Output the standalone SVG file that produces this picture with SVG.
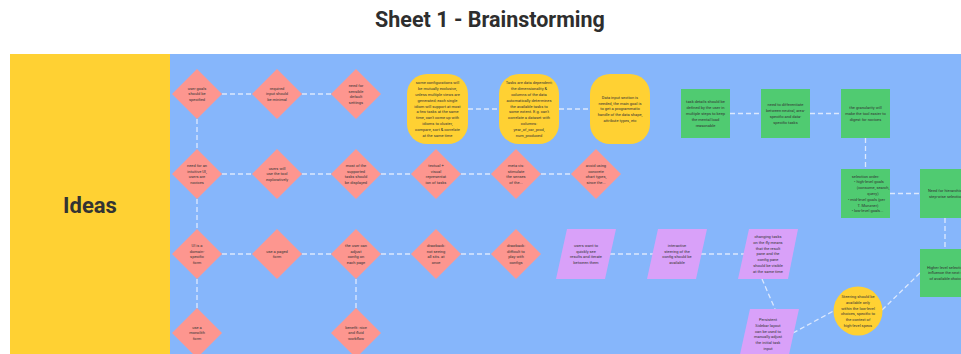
<svg xmlns="http://www.w3.org/2000/svg" width="961" height="354" viewBox="0 0 961 354">
<style>
.t{font-family:Roboto,"Liberation Sans",sans-serif;font-size:4px;fill:#333;text-anchor:middle}
.dia{fill:#FD968F}
.yel{fill:#FFD133}
.grn{fill:#50CB71}
.pur{fill:#D9A1F9}
.c line{stroke:#DCE8FD;stroke-width:1.3;stroke-dasharray:5 3;fill:none}
</style>
<rect width="961" height="354" fill="#fff"/>
<text x="490" y="27" style="font-family:Roboto,'Liberation Sans',sans-serif;font-size:21.5px;font-weight:700;fill:#2e2e2e;text-anchor:middle">Sheet 1 - Brainstorming</text>
<rect x="10" y="54" width="160" height="300" fill="#FFD133"/>
<rect x="170" y="54" width="791" height="300" fill="#86B6FB"/>
<text x="90" y="213" style="font-family:Roboto,'Liberation Sans',sans-serif;font-size:22px;font-weight:700;fill:#333;text-anchor:middle">Ideas</text>

<g class="c">
<line x1="222" y1="94" x2="252" y2="94"/>
<line x1="302" y1="94" x2="331" y2="94"/>
<line x1="197" y1="119" x2="197" y2="149"/>
<line x1="222" y1="174" x2="252" y2="174"/>
<line x1="302" y1="174" x2="331" y2="174"/>
<line x1="381" y1="174" x2="411" y2="174"/>
<line x1="461" y1="174" x2="491" y2="174"/>
<line x1="541" y1="174" x2="571" y2="174"/>
<line x1="197" y1="199" x2="197" y2="229"/>
<line x1="222" y1="254" x2="252" y2="254"/>
<line x1="302" y1="254" x2="331" y2="254"/>
<line x1="381" y1="254" x2="411" y2="254"/>
<line x1="461" y1="254" x2="491" y2="254"/>
<line x1="197" y1="279" x2="197" y2="308"/>
<line x1="356" y1="279" x2="356" y2="308"/>
<line x1="610" y1="254" x2="653" y2="254"/>
<line x1="701" y1="254" x2="744" y2="254"/>
<line x1="468" y1="109" x2="499" y2="109"/>
<line x1="559" y1="109" x2="590" y2="109"/>
<line x1="730" y1="113.5" x2="761" y2="113.5"/>
<line x1="810" y1="113.5" x2="841" y2="113.5"/>
<line x1="865.5" y1="138" x2="865.5" y2="169"/>
<line x1="890" y1="193.5" x2="920" y2="193.5"/>
<line x1="945" y1="218" x2="945" y2="249"/>
<line x1="762" y1="279" x2="775" y2="309"/>
<line x1="793" y1="333" x2="833.5" y2="311"/>
<line x1="882" y1="310" x2="920" y2="273"/>
</g>

<g id="n-user-goals"><polygon class="dia" points="197,69 222,94 197,119 172,94"/><text class="t" y="89.6"><tspan x="197">user goals</tspan><tspan x="197" dy="5.8">should be</tspan><tspan x="197" dy="5.8">specified</tspan></text></g>
<g id="n-required-input"><polygon class="dia" points="277,69 302,94 277,119 252,94"/><text class="t" y="89.6"><tspan x="277">required</tspan><tspan x="277" dy="5.8">input should</tspan><tspan x="277" dy="5.8">be minimal</tspan></text></g>
<g id="n-defaults"><polygon class="dia" points="356,69 381,94 356,119 331,94"/><text class="t" y="86.7"><tspan x="356">need for</tspan><tspan x="356" dy="5.8">sensible</tspan><tspan x="356" dy="5.8">default</tspan><tspan x="356" dy="5.8">settings</tspan></text></g>

<g id="n-config-exclusive"><rect class="yel" x="407" y="74" width="61" height="70" rx="20"/><text class="t" y="84.3"><tspan x="437.5">some configurations will</tspan><tspan x="437.5" dy="5.8">be mutually exclusive,</tspan><tspan x="437.5" dy="5.8">unless multiple views are</tspan><tspan x="437.5" dy="5.8">generated; each single</tspan><tspan x="437.5" dy="5.8">idiom will support at most</tspan><tspan x="437.5" dy="5.8">a few tasks at the same</tspan><tspan x="437.5" dy="5.8">time, can't come up with</tspan><tspan x="437.5" dy="5.8">idioms to cluster,</tspan><tspan x="437.5" dy="5.8">compare, sort &amp; correlate</tspan><tspan x="437.5" dy="5.8">at the same time</tspan></text></g>
<g id="n-data-dependent"><rect class="yel" x="499" y="74" width="60" height="70" rx="20"/><text class="t" y="84.3"><tspan x="529">Tasks are data dependent;</tspan><tspan x="529" dy="5.8">the dimensionality &amp;</tspan><tspan x="529" dy="5.8">columns of the data</tspan><tspan x="529" dy="5.8">automatically determines</tspan><tspan x="529" dy="5.8">the available tasks to</tspan><tspan x="529" dy="5.8">some extent. E.g. can't</tspan><tspan x="529" dy="5.8">correlate a dataset with</tspan><tspan x="529" dy="5.8">columns:</tspan><tspan x="529" dy="5.8">year_of_car_prod,</tspan><tspan x="529" dy="5.8">num_produced</tspan></text></g>
<g id="n-data-input"><rect class="yel" x="590" y="74" width="60" height="70" rx="20"/><text class="t" y="98.8"><tspan x="620">Data input section is</tspan><tspan x="620" dy="5.8">needed, the main goal is</tspan><tspan x="620" dy="5.8">to get a programmatic</tspan><tspan x="620" dy="5.8">handle of the data shape,</tspan><tspan x="620" dy="5.8">attribute types, etc</tspan></text></g>

<g id="n-task-details"><rect class="grn" x="681" y="89" width="49" height="49"/><text class="t" y="103.3"><tspan x="705.5">task details should be</tspan><tspan x="705.5" dy="5.8">defined by the user in</tspan><tspan x="705.5" dy="5.8">multiple steps to keep</tspan><tspan x="705.5" dy="5.8">the mental load</tspan><tspan x="705.5" dy="5.8">reasonable</tspan></text></g>
<g id="n-differentiate"><rect class="grn" x="761" y="89" width="49" height="49"/><text class="t" y="106.2"><tspan x="785.5">need to differentiate</tspan><tspan x="785.5" dy="5.8">between neutral, area-</tspan><tspan x="785.5" dy="5.8">specific and data-</tspan><tspan x="785.5" dy="5.8">specific tasks</tspan></text></g>
<g id="n-granularity"><rect class="grn" x="841" y="89" width="49" height="49"/><text class="t" y="109.1"><tspan x="865.5">the granularity will</tspan><tspan x="865.5" dy="5.8">make the tool easier to</tspan><tspan x="865.5" dy="5.8">digest for novices</tspan></text></g>
<g id="n-selection-order"><rect class="grn" x="841" y="169" width="49" height="49"/><text class="t" y="177.5"><tspan x="865.5">selection order:</tspan><tspan x="869" dy="5.8">• high-level goals</tspan><tspan x="873" dy="5.8">(consume, search,</tspan><tspan x="873" dy="5.8">query)</tspan><tspan x="866.5" dy="5.8">• mid-level goals (per</tspan><tspan x="868" dy="5.8">T. Munzner)</tspan><tspan x="867.5" dy="5.8">• low-level goals...</tspan></text></g>
<g id="n-hierarchical"><rect class="grn" x="920" y="169" width="49" height="49"/><text class="t" y="192"><tspan x="946.5">Need for hierarchical</tspan><tspan x="946" dy="5.8">step-wise selection</tspan></text></g>
<g id="n-higher-level"><rect class="grn" x="920" y="249" width="49" height="48"/><text class="t" y="268.6"><tspan x="947">Higher level selections</tspan><tspan x="947" dy="5.8">influence the next set</tspan><tspan x="947" dy="5.8">of available choices</tspan></text></g>

<g id="n-intuitive-ui"><polygon class="dia" points="197,149 222,174 197,199 172,174"/><text class="t" y="166.7"><tspan x="197">need for an</tspan><tspan x="197" dy="5.8">intuitive UI,</tspan><tspan x="197" dy="5.8">users are</tspan><tspan x="197" dy="5.8">novices</tspan></text></g>
<g id="n-exploratively"><polygon class="dia" points="277,149 302,174 277,199 252,174"/><text class="t" y="169.6"><tspan x="277">users will</tspan><tspan x="277" dy="5.8">use the tool</tspan><tspan x="277" dy="5.8">exploratively</tspan></text></g>
<g id="n-most-tasks"><polygon class="dia" points="356,149 381,174 356,199 331,174"/><text class="t" y="166.7"><tspan x="356">most of the</tspan><tspan x="356" dy="5.8">supported</tspan><tspan x="356" dy="5.8">tasks should</tspan><tspan x="356" dy="5.8">be displayed</tspan></text></g>
<g id="n-textual-visual"><polygon class="dia" points="436,149 461,174 436,199 411,174"/><text class="t" y="166.7"><tspan x="436">textual +</tspan><tspan x="436" dy="5.8">visual</tspan><tspan x="436" dy="5.8">representat</tspan><tspan x="436" dy="5.8">ion of tasks</tspan></text></g>
<g id="n-meta-vis"><polygon class="dia" points="516,149 541,174 516,199 491,174"/><text class="t" y="166.7"><tspan x="516">meta vis:</tspan><tspan x="516" dy="5.8">stimulate</tspan><tspan x="516" dy="5.8">the senses</tspan><tspan x="516" dy="5.8">of the...</tspan></text></g>
<g id="n-avoid-charts"><polygon class="dia" points="596,149 621,174 596,199 571,174"/><text class="t" y="166.7"><tspan x="596">avoid using</tspan><tspan x="596" dy="5.8">concrete</tspan><tspan x="596" dy="5.8">chart types,</tspan><tspan x="596" dy="5.8">since the...</tspan></text></g>

<g id="n-domain-form"><polygon class="dia" points="197,229 222,254 197,279 172,254"/><text class="t" y="246.7"><tspan x="197">UI is a</tspan><tspan x="197" dy="5.8">domain-</tspan><tspan x="197" dy="5.8">specific</tspan><tspan x="197" dy="5.8">form</tspan></text></g>
<g id="n-paged-form"><polygon class="dia" points="277,229 302,254 277,279 252,254"/><text class="t" y="252.5"><tspan x="277">use a paged</tspan><tspan x="277" dy="5.8">form</tspan></text></g>
<g id="n-adjust-config"><polygon class="dia" points="356,229 381,254 356,279 331,254"/><text class="t" y="246.7"><tspan x="356">the user can</tspan><tspan x="356" dy="5.8">adjust</tspan><tspan x="356" dy="5.8">config on</tspan><tspan x="356" dy="5.8">each page</tspan></text></g>
<g id="n-drawback-seeing"><polygon class="dia" points="436,229 461,254 436,279 411,254"/><text class="t" y="246.7"><tspan x="436">drawback:</tspan><tspan x="436" dy="5.8">not seeing</tspan><tspan x="436" dy="5.8">all sits. at</tspan><tspan x="436" dy="5.8">once</tspan></text></g>
<g id="n-drawback-play"><polygon class="dia" points="516,229 541,254 516,279 491,254"/><text class="t" y="246.7"><tspan x="516">drawback:</tspan><tspan x="516" dy="5.8">difficult to</tspan><tspan x="516" dy="5.8">play with</tspan><tspan x="516" dy="5.8">configs</tspan></text></g>

<g id="n-quick-results"><polygon class="pur" points="567,229 616,229 605,279 556,279"/><text class="t" y="246.7"><tspan x="586">users want to</tspan><tspan x="586" dy="5.8">quickly see</tspan><tspan x="586" dy="5.8">results and iterate</tspan><tspan x="586" dy="5.8">between them</tspan></text></g>
<g id="n-interactive-steering"><polygon class="pur" points="658,229 707,229 696,279 647,279"/><text class="t" y="246.7"><tspan x="677">interactive</tspan><tspan x="677" dy="5.8">steering of the</tspan><tspan x="677" dy="5.8">config should be</tspan><tspan x="677" dy="5.8">available</tspan></text></g>
<g id="n-changing-tasks"><polygon class="pur" points="749,229 798,229 788,279 738,279"/><text class="t" y="238"><tspan x="768">changing tasks</tspan><tspan x="768" dy="5.8">on the fly means</tspan><tspan x="768" dy="5.8">that the result</tspan><tspan x="768" dy="5.8">pane and the</tspan><tspan x="768" dy="5.8">config pane</tspan><tspan x="768" dy="5.8">should be visible</tspan><tspan x="768" dy="5.8">at the same time</tspan></text></g>
<g id="n-sidebar"><polygon class="pur" points="750,309 799,309 788,359 739,359"/><text class="t" y="320.9"><tspan x="768">Persistent</tspan><tspan x="768" dy="5.8">Sidebar layout</tspan><tspan x="768" dy="5.8">can be used to</tspan><tspan x="768" dy="5.8">manually adjust</tspan><tspan x="768" dy="5.8">the initial task</tspan><tspan x="768" dy="5.8">input</tspan></text></g>
<g id="n-steering"><circle class="yel" cx="858" cy="311" r="24.5"/><text class="t" y="297.9"><tspan x="858">Steering should be</tspan><tspan x="858" dy="5.8">available only</tspan><tspan x="858" dy="5.8">within the low-level</tspan><tspan x="858" dy="5.8">choices, specific to</tspan><tspan x="858" dy="5.8">the context of</tspan><tspan x="858" dy="5.8">high-level specs</tspan></text></g>

<g id="n-monolith"><polygon class="dia" points="197,308 222,333 197,358 172,333"/><text class="t" y="328.6"><tspan x="197">use a</tspan><tspan x="197" dy="5.8">monolith</tspan><tspan x="197" dy="5.8">form</tspan></text></g>
<g id="n-benefit"><polygon class="dia" points="356,308 381,333 356,358 331,333"/><text class="t" y="328.6"><tspan x="356">benefit: nice</tspan><tspan x="356" dy="5.8">and fluid</tspan><tspan x="356" dy="5.8">workflow</tspan></text></g>
</svg>
